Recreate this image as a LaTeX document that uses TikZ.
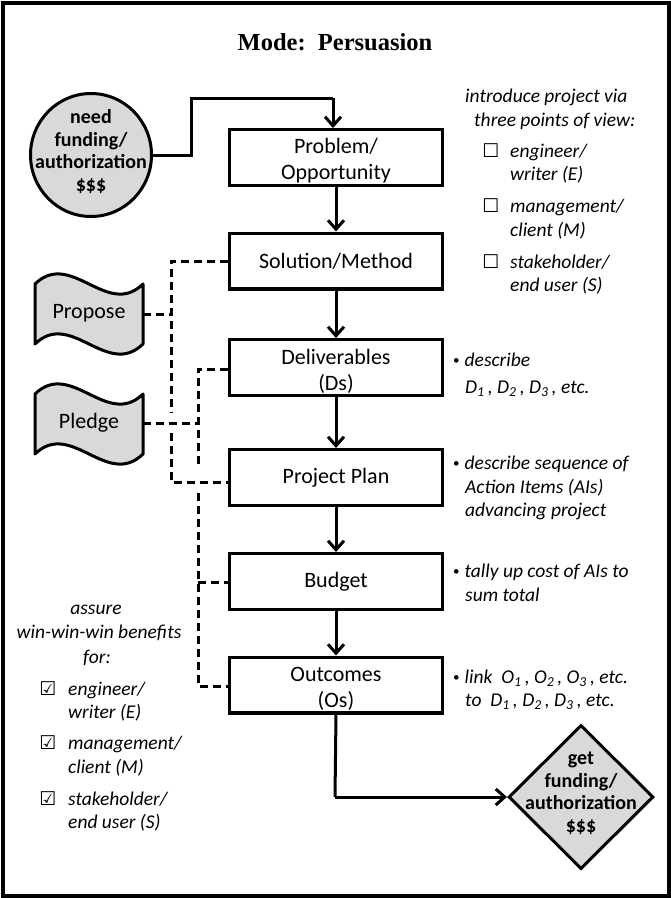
\documentclass[tikz,border=0pt]{standalone}
\usepackage{fontspec}
\setmainfont{Carlito}
\newfontfamily\titlefont{Liberation Serif}
\newfontfamily\symfont{DejaVu Sans}
\usetikzlibrary{shapes.geometric,arrows.meta}
\definecolor{shapegray}{RGB}{217,217,217}
\newcommand\topstrut{\rule{0pt}{22.5pt}}
\newcommand\smallbul{\raisebox{1.5pt}{\fontsize{13}{13}\selectfont\upshape\textbullet}}
\tikzset{
  box/.style={draw, line width=3.4pt, rectangle, minimum width=212.6pt, minimum height=55.6pt,
    align=center, inner sep=0pt, font=\fontsize{22}{26}\selectfont},
  flow/.style={line width=3pt, -{Straight Barb[length=9pt,width=16pt]}},
  plain/.style={line width=3pt},
  link/.style={line width=3pt, dash pattern=on 8pt off 5pt},
  note/.style={anchor=base west, inner sep=0pt, font=\fontsize{19.5}{24}\selectfont\itshape},
  cnote/.style={anchor=base, inner sep=0pt, font=\fontsize{19.5}{24}\selectfont\itshape},
  chk/.style={inner sep=0pt, font=\symfont\fontsize{19}{22}\selectfont},
  boldtxt/.style={align=center, inner sep=0pt, font=\fontsize{20}{22.5}\selectfont\bfseries},
  tapeshape/.style={draw, line width=3pt, fill=shapegray, line join=round},
  tapetxt/.style={inner sep=0pt, font=\fontsize{22}{26}\selectfont},
}
\begin{document}
\begin{tikzpicture}[x=1pt,y=-1pt]
\useasboundingbox (0,0) rectangle (671,898);
\draw[line width=4pt] (2.5,2.5) rectangle (668.5,895.5);

% title
\node[inner sep=0pt, font=\titlefont\bfseries\fontsize{24.5}{28}\selectfont] (title) at (335,42) {Mode:\ \ Persuasion};

% main boxes
\node[box] (prob) at (336,157.5) {\topstrut Problem/\\Opportunity};
\node[box] (sol)  at (336,261)   {Solution/Method};
\node[box] (del)  at (336,367.5) {\topstrut Deliverables\\(Ds)};
\node[box] (pp)   at (336,477.5) {Project Plan};
\node[box] (bud)  at (336,581.5) {Budget};
\node[box] (out)  at (336,685)   {\topstrut Outcomes\\(Os)};

% start circle
\node[draw, ellipse, line width=3pt, fill=shapegray, minimum width=121pt, minimum height=123pt, inner sep=0pt] (start) at (91,155) {};
\node[boldtxt] (starttxt) at (91,151.5) {need\\funding/\\authorization\\\$\$\$};

% end diamond
\node[draw, diamond, line width=3pt, fill=shapegray, minimum width=145pt, minimum height=144pt, inner sep=0pt] (goal) at (581,797) {};
\node[boldtxt] (goaltxt) at (581,793) {get\\funding/\\authorization\\\$\$\$};

% tapes
\draw[tapeshape] (35,284) .. controls (71,249) and (107,319) .. (143,284) -- (143,344)
  .. controls (107,379) and (71,309) .. (35,344) -- cycle;
\node[tapetxt] (proposetxt) at (89,313) {Propose};
\coordinate (propose) at (143,314);
\draw[tapeshape] (35,394) .. controls (71,359) and (107,429) .. (143,394) -- (143,454)
  .. controls (107,489) and (71,419) .. (35,454) -- cycle;
\node[tapetxt] (pledgetxt) at (89,423) {Pledge};
\coordinate (pledge) at (143,423);

% solid flow
\coordinate (k1) at (191,155);
\coordinate (k2) at (191,98);
\coordinate (k3) at (333,98);
\draw[plain, line join=miter] (start.east) -- (k1) -- (k2) -- (k3);
\draw[flow] (k3) -- ([xshift=-3pt]prob.north);
\draw[flow] (prob) -- (sol);
\draw[flow] (sol) -- (del);
\draw[flow] (del) -- (pp);
\draw[flow] (pp) -- (bud);
\draw[flow] (bud) -- (out);
\coordinate (k4) at (335,797);
\draw[plain] (out.south) -- (k4);
\draw[flow] (k4) -- (goal.west);

% dashed links
\coordinate (pa) at (171,261);
\coordinate (pb) at (171,413);
\coordinate (pc) at (171,433);
\coordinate (pd) at (171,482);
\coordinate (pe) at (171,314);
\draw[link] (sol.west) -- (pa) -- (pb);
\draw[link] (pc) -- (pd) -- (pd -| pp.west);
\draw[link] (propose) -- (pe);
\coordinate (qa) at (198,369);
\coordinate (qb) at (198,468);
\coordinate (qc) at (198,493);
\coordinate (qd) at (198,686);
\coordinate (qe) at (198,582);
\coordinate (qf) at (198,423);
\draw[link] (qa -| del.west) -- (qa) -- (qb);
\draw[link] (qc) -- (qd) -- (qd -| out.west);
\draw[link] (qe) -- (qe -| bud.west);
\draw[link] (pledge) -- (qf);

% right notes top
\node[note] (n1) at (465,102) {introduce project via};
\node[note] (n2) at (474,126) {three points of view:};
\node[chk] (b1) at (491,151) {☐};
\node[note] (n3) at (510,157) {engineer/};
\node[note] (n4) at (510,180) {writer (E)};
\node[chk] (b2) at (491,206) {☐};
\node[note] (n5) at (510,212) {management/};
\node[note] (n6) at (510,236) {client (M)};
\node[chk] (b3) at (491,262) {☐};
\node[note] (n7) at (510,268) {stakeholder/};
\node[note] (n8) at (510,291) {end user (S)};

% right notes per box
\node[note] (d1) at (453,366) {\smallbul\hspace{5pt}describe};
\node[note] (d2) at (465,393) {D\textsubscript{1}\,, D\textsubscript{2}\,, D\textsubscript{3}\,, etc.};
\node[note] (e1) at (453,469) {\smallbul\hspace{5pt}describe sequence of};
\node[note] (e2) at (465,493) {Action Items (AIs)};
\node[note] (e3) at (465,516) {advancing project};
\node[note] (f1) at (453,577) {\smallbul\hspace{5pt}tally up cost of AIs to};
\node[note] (f2) at (465,601) {sum total};
\node[note] (g1) at (453,683) {\smallbul\hspace{5pt}link\ \ O\textsubscript{1}\,, O\textsubscript{2}\,, O\textsubscript{3}\,, etc.};
\node[note] (g2) at (465,706) {to\ \ D\textsubscript{1}\,, D\textsubscript{2}\,, D\textsubscript{3}\,, etc.};

% left bottom notes
\node[cnote] (h1) at (96,614) {assure};
\node[cnote] (h2) at (99,638) {win-win-win benefits};
\node[cnote] (h3) at (97,663) {for:};
\node[chk] (k5) at (48,689) {☑};
\node[note] (h4) at (68,695) {engineer/};
\node[note] (h5) at (68,718) {writer (E)};
\node[chk] (k6) at (48,743) {☑};
\node[note] (h6) at (68,749) {management/};
\node[note] (h7) at (68,773) {client (M)};
\node[chk] (k7) at (48,799) {☑};
\node[note] (h8) at (68,805) {stakeholder/};
\node[note] (h9) at (68,828) {end user (S)};
\end{tikzpicture}
\end{document}
